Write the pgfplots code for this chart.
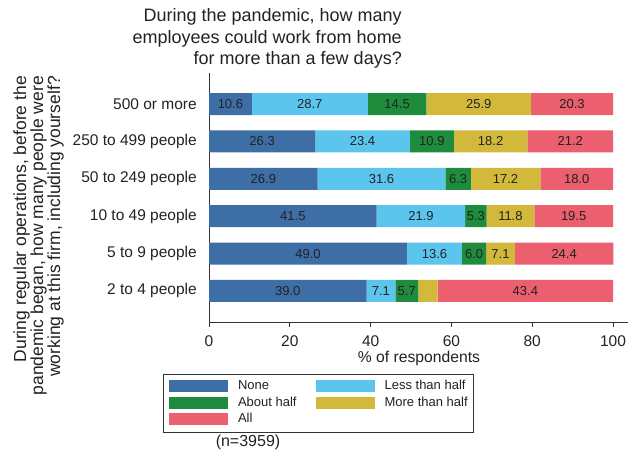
\documentclass[border=0pt]{standalone}
\usepackage{pgfplots}
\pgfplotsset{compat=1.18}
\usepackage{pgfplotstable}
\usepackage{fontspec}
\setmainfont{Liberation Sans}
\definecolor{cNone}{HTML}{3D6EA5}
\definecolor{cLess}{HTML}{5CC5EE}
\definecolor{cAbout}{HTML}{1E8C3C}
\definecolor{cMore}{HTML}{D2B93C}
\definecolor{cAll}{HTML}{EB5F6E}
\definecolor{txt}{HTML}{222222}

\pgfplotstableread{
row none less about more all
1 39.0 7.1 5.7 4.8 43.4
2 49.0 13.6 6.0 7.1 24.4
3 41.5 21.9 5.3 11.8 19.5
4 26.9 31.6 6.3 17.2 18.0
5 26.3 23.4 10.9 18.2 21.2
6 10.6 28.7 14.5 25.9 20.3
}\datatable

\pgfplotsset{
  lbl/.style={
    point meta=explicit symbolic,
    nodes near coords={\ifdim\pgfplotspointmeta pt<5pt\else\pgfplotspointmeta\fi},
    every node near coord/.append style={font=\fontsize{13}{15}\selectfont, text=txt, inner sep=0pt, anchor=center},
  },
}

\begin{document}
\begin{tikzpicture}[x=1pt,y=1pt]
\useasboundingbox (0,0) rectangle (635,454);
\begin{axis}[
  at={(209pt,132pt)}, anchor=south west,
  scale only axis, width=419pt, height=249pt,
  xbar stacked, bar width=22pt,
  xmin=0, xmax=103.7, ymin=0.17, ymax=6.83,
  axis x line*=bottom, axis y line*=left,
  axis line style={line width=0.8pt, color=black!80},
  xtick={0,20,...,100},
  ytick={1,...,6},
  yticklabels={2 to 4 people,5 to 9 people,10 to 49 people,50 to 249 people,250 to 499 people,500 or more},
  ytick style={draw=none},
  xtick style={line width=0.8pt, color=black!80},
  tick align=outside, major tick length=5pt,
  tick label style={font=\fontsize{15.5}{18}\selectfont, text=txt, inner sep=0pt},
  yticklabel style={anchor=east, xshift=-7pt},
  xticklabel style={anchor=north, yshift=-8pt},
  /pgf/number format/assume math mode=true,
  xlabel={\% of respondents},
  xlabel style={font=\fontsize{15.7}{18}\selectfont, text=txt, at={(axis description cs:0.501,-0.148)}, anchor=center},
  legend columns=2,
  legend cell align=left,
  legend style={
    at={(0.261,-0.325)}, anchor=center,
    draw=black!80, line width=0.6pt,
    font=\fontsize{13}{15}\selectfont, text=txt,
    inner xsep=6pt, inner ysep=6pt,
    row sep=3.5pt,
    nodes={inner sep=0pt, text height=10pt, text depth=3pt},
    /tikz/every odd column/.append style={column sep=10pt},
    /tikz/every even column/.append style={column sep=19pt},
  },
  legend image code/.code={\fill[#1] (0pt,-6pt) rectangle (59pt,6pt);},
]
\addplot[fill=cNone, draw=none, lbl] table[x=none, y=row, meta=none] {\datatable};
\addplot[fill=cLess, draw=none, lbl] table[x=less, y=row, meta=less] {\datatable};
\addplot[fill=cAbout, draw=none, lbl] table[x=about, y=row, meta=about] {\datatable};
\addplot[fill=cMore, draw=none, lbl] table[x=more, y=row, meta=more] {\datatable};
\addplot[fill=cAll, draw=none, lbl] table[x=all, y=row, meta=all] {\datatable};
\legend{None, Less than half, About half, More than half, All}
\end{axis}
\begin{scope}[every node/.style={font=\fontsize{18}{21}\selectfont, text=txt, inner sep=0pt, anchor=base east}]
\node at (402,454-22) {During the pandemic, how many};
\node at (402,454-43.5) {employees could work from home};
\node at (402,454-65) {for more than a few days?};
\end{scope}
\begin{scope}[every node/.style={font=\fontsize{17.5}{19}\selectfont, text=txt, inner sep=0pt, anchor=base east, rotate=90}]
\node at (26,454-76) {During regular operations, before the};
\node at (43,454-76) {pandemic began, how many people were};
\node at (60,454-76) {working at this firm, including yourself?};
\end{scope}
\node[font=\fontsize{16}{18}\selectfont, text=txt, inner sep=0pt] at (248,454-442) {(n=3959)};
\end{tikzpicture}
\end{document}
